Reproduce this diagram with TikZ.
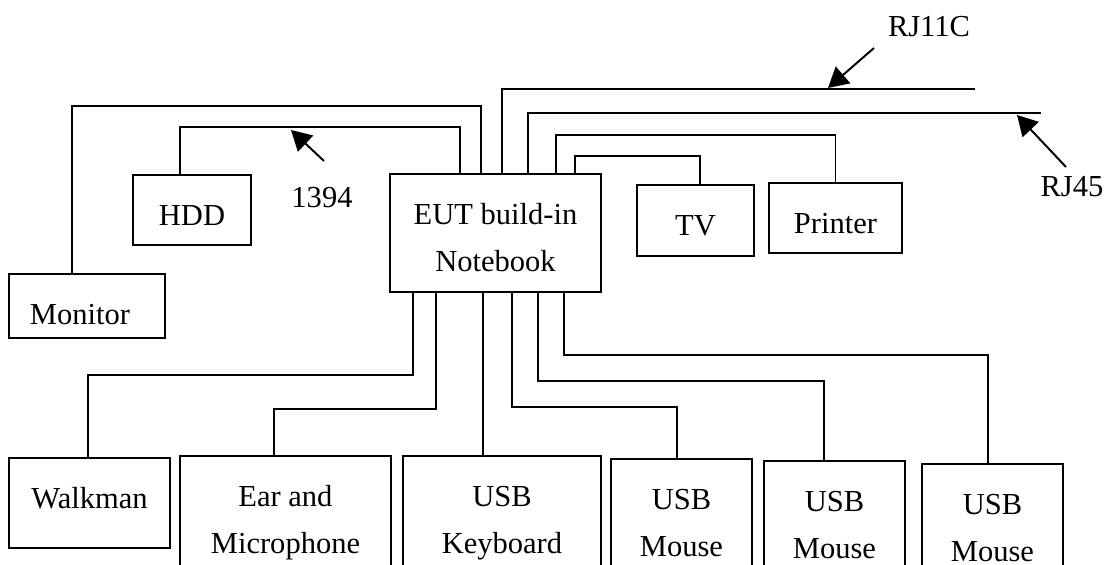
\documentclass[tikz,border=0pt]{standalone}
\usepackage{fontspec}
\setmainfont{Liberation Serif}
\usetikzlibrary{positioning,arrows.meta,calc}

\begin{document}
\begin{tikzpicture}[
    x=0.025cm, y=-0.025cm,
    font=\fontsize{21.7pt}{33.3pt}\selectfont,
    devbox/.style={draw, line width=1.4pt, inner sep=0pt, align=center, text depth=0pt},
    oneline/.style={devbox, text height=0.75cm},
    twoline/.style={devbox, text height=1.925cm},
    lowbox/.style={twoline, anchor=north, minimum height=2.925cm, minimum width=#1},
    cable/.style={line width=1.4pt},
    pointer/.style={-{Triangle[length=0.5cm, width=0.55cm]}, line width=1.4pt},
    portlab/.style={anchor=base, inner sep=0pt},
]
\useasboundingbox (0,0) rectangle (1107,565);
\clip (0,0) rectangle (1107,565);

% ---- Units ----
\node[oneline, minimum width=3.9cm, minimum height=1.6cm, text height=0.9cm] (monitor) at (87,306) {Monitor\hspace*{0.35cm}};
\node[oneline, minimum width=2.95cm, minimum height=1.75cm] (hdd) at (192,210) {HDD};
\node[twoline, minimum width=5.275cm, minimum height=2.95cm] (eut) at (495.5,233) {EUT build-in\\Notebook};
\node[oneline, minimum width=2.925cm, minimum height=1.775cm] (tv) at (695.5,220.5) {TV};
\node[oneline, minimum width=3.325cm, minimum height=1.75cm] (printer) at (835.5,218) {Printer};
\node[oneline, minimum width=4.025cm, minimum height=2.25cm, text height=0.25cm] (walkman) at (89.5,503) {Walkman};
\node[lowbox=5.275cm] (ear) at (285.5,455) {Ear and\\Microphone};
\node[lowbox=4.95cm] (keyboard) at (502,455) {USB\\Keyboard};
\node[lowbox=3.525cm] (mouse1) at (681.5,458) {USB\\Mouse};
\node[lowbox=3.525cm] (mouse2) at (834.5,460) {USB\\Mouse};
\node[lowbox=3.525cm] (mouse3) at (992.5,463) {USB\\Mouse};

% ---- Port labels ----
\node[portlab] (l1394) at (322,207) {1394};
\node[portlab] (lrj11c) at (929,37) {RJ11C};
\node[portlab] (lrj45) at (1072,197) {RJ45};

% ---- Cables on top ----
\coordinate (rj11c) at (975,89);
\coordinate (rj45) at (1041,113);
\draw[cable] ($(monitor.north)+(-15,0)$) -- ++(0,-167) -| ($(eut.north west)+(92,0)$);
\draw[cable] ($(hdd.north)+(-12,0)$) -- ++(0,-47) -| ($(eut.north west)+(71,0)$);
\draw[cable] ($(eut.north west)+(113,0)$) |- (rj11c);
\draw[cable] ($(eut.north west)+(139,0)$) |- (rj45);
\draw[cable] ($(eut.north west)+(167,0)$) -- ++(0,-38) -| (printer.north);
\draw[cable] ($(eut.north west)+(186,0)$) -- ++(0,-17) -| ($(tv.north)+(4.5,0)$);

% ---- Cables below ----
\coordinate (kbport) at ($(eut.south west)+(94,0)$);
\draw[cable] ($(eut.south west)+(24,0)$) -- ++(0,82) -| ($(walkman.north)+(-1.5,0)$);
\draw[cable] ($(eut.south west)+(47,0)$) -- ++(0,116) -| ($(ear.north)+(-11.5,0)$);
\draw[cable] (kbport) -- (kbport |- keyboard.north);
\draw[cable] ($(eut.south west)+(123,0)$) -- ++(0,114) -| ($(mouse1.north)+(-4.5,0)$);
\draw[cable] ($(eut.south west)+(149,0)$) -- ++(0,88) -| ($(mouse2.north)+(-10.5,0)$);
\draw[cable] ($(eut.south west)+(175,0)$) -- ++(0,62) -| ($(mouse3.north)+(-4.5,0)$);

% ---- Pointers ----
\coordinate (a1394) at (324,161);
\coordinate (t1394) at (291,130);
\coordinate (arj11c) at (874,48);
\coordinate (trj11c) at (828,88);
\coordinate (arj45) at (1066,167);
\coordinate (trj45) at (1017,115);
\draw[pointer] (a1394) -- (t1394);
\draw[pointer] (arj11c) -- (trj11c);
\draw[pointer] (arj45) -- (trj45);

\end{tikzpicture}
\end{document}
